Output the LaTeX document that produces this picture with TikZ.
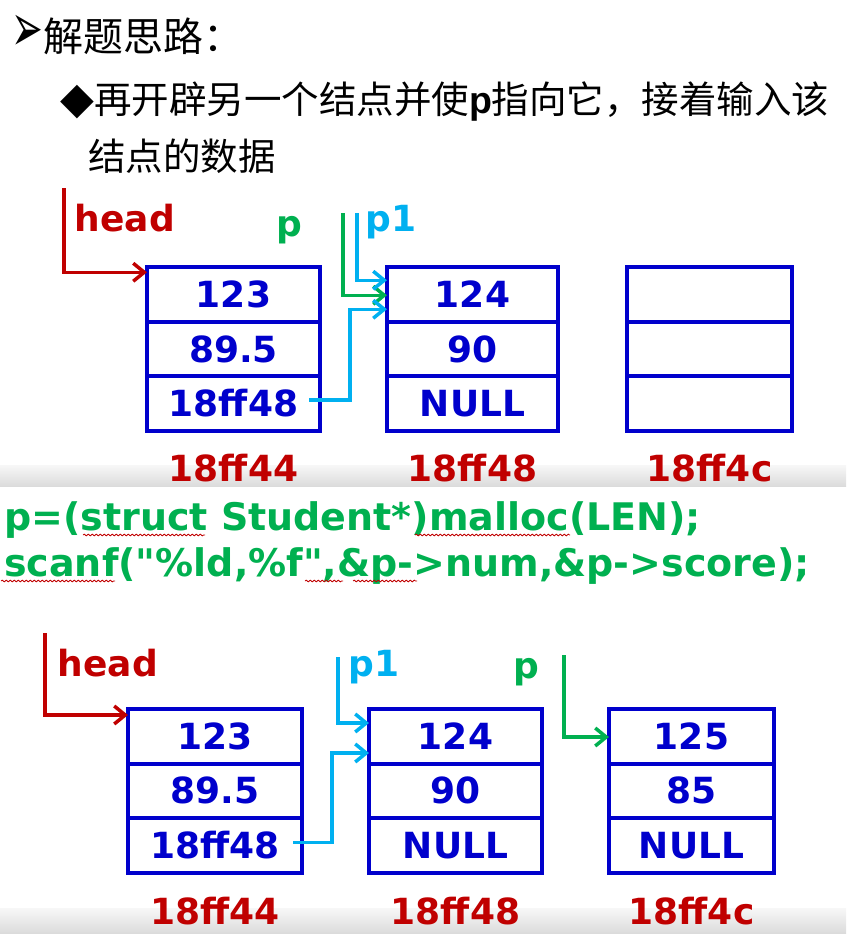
\documentclass[tikz,border=0pt]{standalone}
\usepackage{fontspec}
\setmainfont{DejaVu Sans}
\newfontfamily\cjk{Noto Sans CJK SC}
\newfontfamily\arial{Liberation Sans}
\newfontfamily\codefont{DejaVu Sans}[Ligatures=TeXOff]
\usetikzlibrary{arrows.meta,positioning,decorations.pathmorphing}
\usepackage{xcolor}
\definecolor{boxblue}{HTML}{0000CC}
\definecolor{addrred}{HTML}{C00000}
\definecolor{pgreen}{HTML}{00B050}
\definecolor{pcyan}{HTML}{00B0F0}
\newcommand{\bigbf}{\fontsize{36}{40}\selectfont\bfseries}

\begin{document}
\begin{tikzpicture}[x=1pt, y=-1pt, every node/.style={font=\bigbf},
  field/.style={draw=boxblue, line width=4pt, inner sep=0pt, outer sep=0pt, minimum height=54.5pt, text=boxblue},
  addr/.style={text=addrred, inner sep=0pt},
  ptr/.style={line width=3.5pt, -{Straight Barb[length=11pt,width=18pt]}},
  code/.style={anchor=west, inner sep=0pt, text=pgreen, font=\codefont\fontsize{38}{42}\selectfont\bfseries},
  spell/.style={addrred, line width=0.8pt, decorate, decoration={snake, amplitude=0.9pt, segment length=4pt}}]
  \useasboundingbox (0,0) rectangle (846,939);

  % SLIDE BANDS
  \shade[top color=gray!6, bottom color=gray!28] (0,465) rectangle (846,486);
  \shade[top color=gray!6, bottom color=gray!28] (0,908) rectangle (846,933);

  % HEADING
  \node[anchor=west, inner sep=0pt, font=\fontsize{40}{44}\selectfont] (title) at (11,35) {\scalebox{0.95}[1.7]{➢}{\cjk 解题思路：}};
  \node[anchor=west, inner sep=0pt, font=\fontsize{37.5}{42}\selectfont] (step) at (60,102) {{\fontsize{44}{44}\selectfont ◆}{\cjk 再开辟另一个结点并使}{\arial\bfseries p}{\cjk 指向它，接着输入该}};
  \node[anchor=west, inner sep=0pt, font=\fontsize{37.5}{42}\selectfont] (stepcont) at (88,156) {\cjk 结点的数据};

  % LIST BEFORE malloc
  \foreach \n/\x/\w/\va/\vb/\vc/\ad in {a/233.5/173/123/89.5/18ff48/18ff44, b/472.5/171/124/90/NULL/18ff48, c/709.5/165/{}/{}/{}/18ff4c} {
    \node[field, minimum width=\w pt] (\n-num) at (\x,294.5) {\va};
    \node[field, minimum width=\w pt, below=0pt of \n-num] (\n-score) {\vb};
    \node[field, minimum width=\w pt, below=0pt of \n-score] (\n-next) {\vc};
    \node[addr, below=23pt of \n-next] (\n-addr) {\ad};
  }
  \coordinate (head1) at (64,188);
  \coordinate (ptop1) at (343,213);
  \coordinate (pnewtop1) at (357,213);
  \node[text=addrred] (headlbl1) at (125,218) {head};
  \node[text=pgreen] (plbl1) at (289,230) {p};
  \node[text=pcyan] (pnewlbl1) at (391,222) {p1};
  \draw[ptr, addrred] (head1) |- ([yshift=-5pt]a-num.north west);
  \draw[ptr, pgreen] (ptop1) |- ([yshift=-28pt]b-num.north west);
  \draw[ptr, pcyan] (pnewtop1) |- ([yshift=-13pt]b-num.north west);
  \draw[ptr, pcyan] ([xshift=-11pt, yshift=3.5pt]a-next.east) -- ++(41,0) |- ([yshift=-42pt]b-num.north west);

  % CODE
  \node[code] (line1) at (4,520) {p=(struct Student*)malloc(LEN);};
  \node[code] (line2) at (4,566) {scanf("\%ld,\%f",\&p->num,\&p->score);};
  \draw[spell] (83,535) -- (205,535);
  \draw[spell] (415,535) -- (570,535);
  \draw[spell] (1,581) -- (115,581);
  \draw[spell] (305,581) -- (343,581);
  \draw[spell] (353,581) -- (417,581);

  % LIST AFTER malloc
  \foreach \n/\x/\w/\va/\vb/\vc/\ad in {d/215/174/123/89.5/18ff48/18ff44, e/455.5/173/124/90/NULL/18ff48, f/691.5/165/125/85/NULL/18ff4c} {
    \node[field, minimum width=\w pt] (\n-num) at (\x,736.25) {\va};
    \node[field, minimum width=\w pt, below=0pt of \n-num] (\n-score) {\vb};
    \node[field, minimum width=\w pt, below=0pt of \n-score] (\n-next) {\vc};
    \node[addr, below=24pt of \n-next] (\n-addr) {\ad};
  }
  \coordinate (head2) at (45,633);
  \coordinate (pnewtop2) at (338,657);
  \coordinate (ptop2) at (564,655);
  \node[text=addrred] (headlbl2) at (108,663) {head};
  \node[text=pcyan] (pnewlbl2) at (374,667) {p1};
  \node[text=pgreen] (plbl2) at (526,672) {p};
  \draw[ptr, addrred] (head2) |- ([yshift=-6pt]d-num.north west);
  \draw[ptr, pcyan] (pnewtop2) |- ([yshift=-14pt]e-num.north west);
  \draw[ptr, pcyan] ([xshift=-9pt, yshift=3pt]d-next.east) -- ++(39,0) |- ([yshift=-44pt]e-num.north west);
  \draw[ptr, pgreen] (ptop2) |- ([yshift=-28pt]f-num.north west);
\end{tikzpicture}
\end{document}
